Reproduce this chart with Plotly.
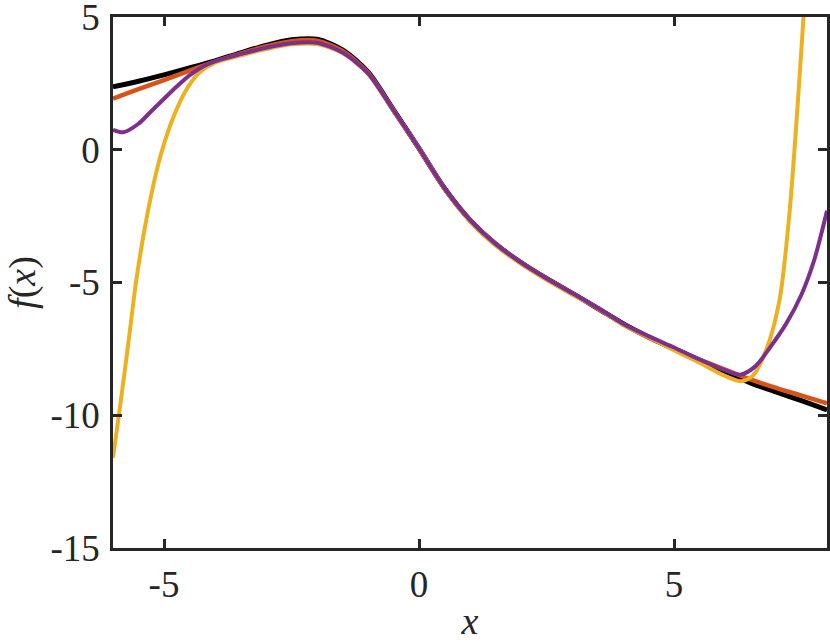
import plotly.graph_objects as go

# True function f(x) (black)
x_true = [-6, -5.5, -5, -4.5, -4, -3.5, -3, -2.5, -2, -1.5, -1, -0.5, 0,
          0.5, 1, 1.5, 2, 2.5, 3, 3.5, 4, 4.5, 5, 5.5, 6, 6.5, 7, 7.5, 8]
y_true = [2.37, 2.58, 2.82, 3.08, 3.35, 3.65, 3.93, 4.14, 4.16, 3.76, 2.93, 1.5, 0.05,
          -1.45, -2.65, -3.55, -4.25, -4.85, -5.4, -5.97, -6.55, -7.05, -7.5, -7.92, -8.35, -8.78, -9.12, -9.45, -9.8]

# Approximation 1 (orange)
x_a1 = [-6, -5.5, -5, -4.5, -4, -3.5, -3, -2.5, -2, -1.5, -1, -0.5, 0,
        0.5, 1, 1.5, 2, 2.5, 3, 3.5, 4, 4.5, 5, 5.5, 6, 6.5, 7, 7.5, 8]
y_a1 = [1.92, 2.28, 2.62, 2.98, 3.32, 3.62, 3.89, 4.09, 4.11, 3.72, 2.9, 1.48, 0.05,
        -1.45, -2.65, -3.55, -4.25, -4.85, -5.4, -5.97, -6.57, -7.07, -7.5, -7.9, -8.28, -8.65, -8.97, -9.26, -9.55]

# Approximation 2 (yellow)
x_a2 = [-6, -5.85, -5.7, -5.55, -5.4, -5.25, -5.1, -4.9, -4.7, -4.5, -4.3, -4, -3.5, -3, -2.5,
        -2, -1.5, -1, -0.5, 0, 0.5, 1, 1.5, 2, 2.5, 3, 3.5, 4, 4.5, 5, 5.5, 6,
        6.32, 6.55, 6.81, 7.07, 7.27, 7.55]
y_a2 = [-11.6, -9.5, -7.3, -5.0, -3.2, -1.7, -0.45, 0.8, 1.75, 2.45, 2.92, 3.28, 3.55, 3.79, 3.97,
        3.98, 3.64, 2.86, 1.46, 0.05, -1.47, -2.7, -3.6, -4.3, -4.9, -5.45, -5.95, -6.6, -7.05, -7.55, -8.02, -8.52,
        -8.72, -8.5, -7.53, -5.65, -2.26, 5.3]

# Approximation 3 (purple)
x_a3 = [-6, -5.8, -5.5, -5.25, -5, -4.75, -4.5, -4.25, -4, -3.5, -3, -2.5,
        -2, -1.5, -1, -0.5, 0, 0.5, 1, 1.5, 2, 2.5, 3, 3.5, 4, 4.5, 5, 5.5,
        6.0, 6.3, 6.6, 6.9, 7.2, 7.5, 7.75, 8]
y_a3 = [0.75, 0.66, 0.98, 1.45, 1.92, 2.38, 2.8, 3.12, 3.33, 3.6, 3.84, 4.01,
        4.03, 3.66, 2.88, 1.48, 0.05, -1.45, -2.65, -3.55, -4.25, -4.85, -5.4, -5.95, -6.55, -7.02, -7.45, -7.9,
        -8.3, -8.47, -8.15, -7.4, -6.55, -5.45, -4.15, -2.3]

x_ticks = [-5, 0, 5]
x_tick_text = ["-5", "0", "5"]
y_ticks = [-15, -10, -5, 0, 5]
y_tick_text = ["-15", "-10", "-5", "0", "5"]

series = [
    (x_true, y_true, "#000000", 5),
    (x_a1, y_a1, "#D95319", 4.5),
    (x_a2, y_a2, "#EDB120", 4),
    (x_a3, y_a3, "#7E2F8E", 4),
]

fig = go.Figure()
for xs, ys, col, w in series:
    fig.add_trace(go.Scatter(x=xs, y=ys, mode="lines",
                             line=dict(color=col, width=w, shape="spline", smoothing=0.8),
                             showlegend=False))

font_family = "Liberation Serif, Times New Roman, serif"
axcol = "#262626"

fig.update_layout(
    width=830, height=643,
    margin=dict(l=113, r=3, t=17, b=95),
    paper_bgcolor="white", plot_bgcolor="white",
    font=dict(family=font_family, size=37, color=axcol),
    xaxis=dict(range=[-6, 8], showgrid=False, zeroline=False, automargin=False,
               showline=True, linecolor=axcol, linewidth=2.5, mirror="ticks",
               ticks="inside", ticklen=9, tickwidth=2.5, tickcolor=axcol,
               tickvals=x_ticks, ticktext=x_tick_text, ticklabelstandoff=2,
               ticklabeloverflow="allow",
               title=dict(text="<i>x</i>", font=dict(size=38, family=font_family), standoff=4)),
    yaxis=dict(range=[-15, 5], showgrid=False, zeroline=False, automargin=False,
               showline=True, linecolor=axcol, linewidth=2.5, mirror="ticks",
               ticks="inside", ticklen=9, tickwidth=2.5, tickcolor=axcol,
               tickvals=y_ticks, ticktext=y_tick_text, ticklabelstandoff=3,
               ticklabeloverflow="allow",
               title=dict(text="<i>f</i>(<i>x</i>)", font=dict(size=38, family=font_family), standoff=4)),
)

fig.write_html("out.html", config={"displayModeBar": False},
               post_script="document.body.style.margin='0';document.body.style.overflow='hidden';")
